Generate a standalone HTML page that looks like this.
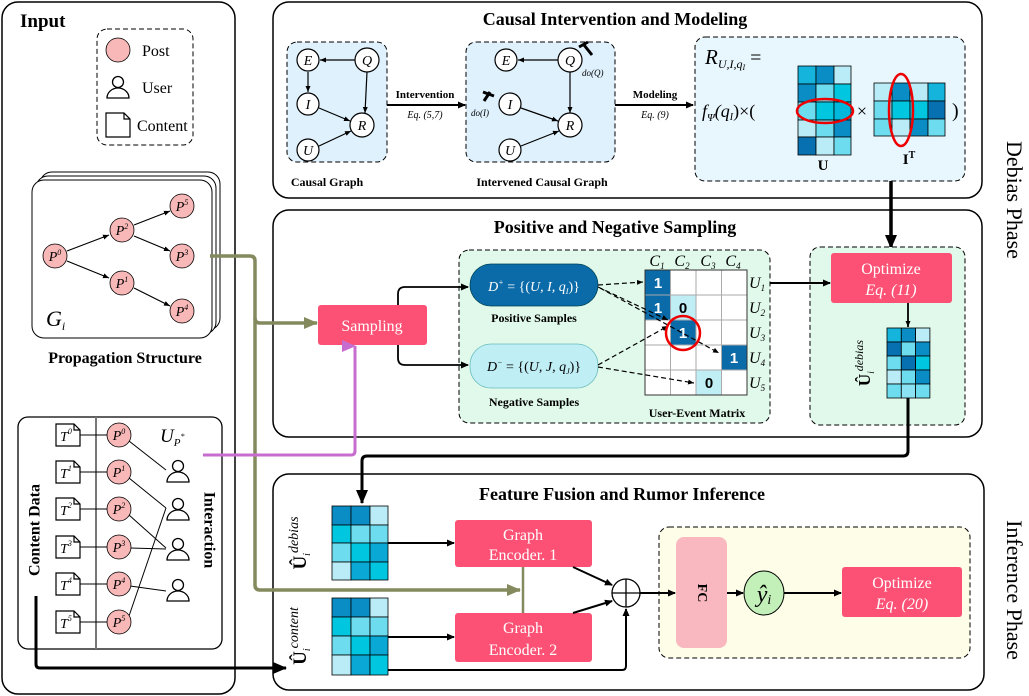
<!DOCTYPE html>
<html><head><meta charset="utf-8"><style>
html,body{margin:0;padding:0;background:#fff}
svg{display:block;font-family:"Liberation Serif",serif}
.b{font-weight:bold}
.i{font-style:italic}
</style></head><body>
<svg width="1029" height="696" viewBox="0 0 1029 696" xmlns="http://www.w3.org/2000/svg">
<defs>
<marker id="a" markerWidth="8" markerHeight="8" refX="7" refY="4" orient="auto" markerUnits="userSpaceOnUse"><path d="M0,0.5 L8,4 L0,7.5 Z" fill="#000"/></marker>
<marker id="as" markerWidth="6" markerHeight="6" refX="6" refY="3" orient="auto" markerUnits="userSpaceOnUse"><path d="M0,0.5 L6,3 L0,5.5 Z" fill="#000"/></marker>
<marker id="ab" markerWidth="14" markerHeight="14" refX="13" refY="7" orient="auto" markerUnits="userSpaceOnUse"><path d="M0,1 L14,7 L0,13 Z" fill="#000"/></marker>
<marker id="ao" markerWidth="14" markerHeight="14" refX="13" refY="7" orient="auto" markerUnits="userSpaceOnUse"><path d="M0,1 L14,7 L0,13 Z" fill="#848a5e"/></marker>
<marker id="ap" markerWidth="14" markerHeight="14" refX="7" refY="13" orient="auto" markerUnits="userSpaceOnUse"><path d="M1,0 L7,14 L13,0 Z" fill="#c86dd0"/></marker>
<g id="user"><circle cx="0" cy="-6" r="5.5" fill="#fff" stroke="#000" stroke-width="1.3"/><path d="M-11,10 A11,10 0 0 1 11,10 Z" fill="#fff" stroke="#000" stroke-width="1.3"/></g>
<g id="doc"><path d="M-12,-11 L6,-11 L12,-5 L12,11 L-12,11 Z M6,-11 L6,-5 L12,-5" fill="#fff" stroke="#000" stroke-width="1.2"/></g>
</defs>

<!-- main panels -->
<rect x="2" y="2" width="233" height="692" rx="16" fill="none" stroke="#000" stroke-width="1.5"/>
<rect x="273" y="2" width="709" height="196" rx="16" fill="none" stroke="#000" stroke-width="1.5"/>
<rect x="273" y="210" width="709" height="227" rx="16" fill="none" stroke="#000" stroke-width="1.5"/>
<rect x="273" y="474" width="711" height="216" rx="16" fill="none" stroke="#000" stroke-width="1.5"/>
<text x="1012" y="200" font-size="22" text-anchor="middle" transform="rotate(90 1012 200)" dominant-baseline="middle">Debias Phase</text>
<text x="1012" y="590" font-size="22" text-anchor="middle" transform="rotate(90 1012 590)" dominant-baseline="middle">Inference Phase</text>

<!-- INPUT -->
<text x="20" y="27" font-size="19" class="b">Input</text>
<rect x="97" y="29" width="96" height="116" rx="10" fill="none" stroke="#000" stroke-dasharray="5,3"/>
<circle cx="118" cy="50" r="12" fill="#f9b8b8" stroke="#000" stroke-width="0.8"/>
<text x="142" y="56" font-size="16">Post</text>
<use href="#user" x="118" y="88"/>
<text x="142" y="93" font-size="16">User</text>
<path d="M106,113 L124,113 L130,119 L130,137 L106,137 Z M124,113 L124,119 L130,119" fill="#fff" stroke="#000" stroke-width="1.2"/>
<text x="137" y="131" font-size="16">Content</text>

<rect x="40" y="172" width="180" height="158" rx="12" fill="#fff" stroke="#000"/>
<rect x="36" y="176" width="180" height="158" rx="12" fill="#fff" stroke="#000"/>
<rect x="32" y="180" width="180" height="158" rx="12" fill="#fff" stroke="#000"/>
<g stroke="#000" stroke-width="1.2" fill="none" marker-end="url(#as)">
<line x1="67" y1="251" x2="109" y2="235"/><line x1="67" y1="261" x2="109" y2="278"/>
<line x1="134" y1="225" x2="170" y2="211"/><line x1="134" y1="236" x2="170" y2="251"/>
<line x1="134" y1="288" x2="170" y2="306"/>
</g>
<g fill="#f9b8b8" stroke="#000" stroke-width="0.8">
<circle cx="55" cy="256" r="12"/><circle cx="122" cy="230" r="12"/><circle cx="182" cy="206" r="12"/>
<circle cx="182" cy="256" r="12"/><circle cx="122" cy="283" r="12"/><circle cx="182" cy="311" r="12"/>
</g>
<g font-size="14" class="i" text-anchor="middle">
<text x="55" y="261">P<tspan font-size="8" dy="-6">0</tspan></text>
<text x="122" y="235">P<tspan font-size="8" dy="-6">2</tspan></text>
<text x="182" y="211">P<tspan font-size="8" dy="-6">5</tspan></text>
<text x="182" y="261">P<tspan font-size="8" dy="-6">3</tspan></text>
<text x="122" y="288">P<tspan font-size="8" dy="-6">1</tspan></text>
<text x="182" y="316">P<tspan font-size="8" dy="-6">4</tspan></text>
</g>
<text x="46" y="326" font-size="22" class="i">G<tspan font-size="12" dy="4">i</tspan></text>
<text x="125" y="363" font-size="16" class="b" text-anchor="middle">Propagation Structure</text>

<rect x="18" y="417" width="204" height="232" rx="10" fill="none" stroke="#000" stroke-width="1.3"/>
<line x1="96" y1="417" x2="96" y2="649" stroke="#777" stroke-width="2"/>
<g stroke="#000" stroke-width="1">
<line x1="80" y1="435" x2="108" y2="435"/><line x1="80" y1="472" x2="108" y2="472"/><line x1="80" y1="509" x2="108" y2="509"/>
<line x1="80" y1="547" x2="108" y2="547"/><line x1="80" y1="584" x2="108" y2="584"/><line x1="80" y1="622" x2="108" y2="622"/>
<line x1="129" y1="441" x2="166" y2="470"/><line x1="129" y1="478" x2="166" y2="508"/><line x1="129" y1="515" x2="166" y2="548"/>
<line x1="130" y1="548" x2="166" y2="549"/><line x1="130" y1="586" x2="166" y2="591"/><line x1="129" y1="616" x2="166" y2="508"/>
</g>
<g>
<use href="#doc" x="68" y="435"/><use href="#doc" x="68" y="472"/><use href="#doc" x="68" y="509"/>
<use href="#doc" x="68" y="547"/><use href="#doc" x="68" y="584"/><use href="#doc" x="68" y="622"/>
</g>
<g font-size="14" class="i" text-anchor="middle">
<text x="66" y="441">T<tspan font-size="8" dy="-7">0</tspan></text>
<text x="66" y="478">T<tspan font-size="8" dy="-7">1</tspan></text>
<text x="66" y="515">T<tspan font-size="8" dy="-7">2</tspan></text>
<text x="66" y="553">T<tspan font-size="8" dy="-7">3</tspan></text>
<text x="66" y="590">T<tspan font-size="8" dy="-7">4</tspan></text>
<text x="66" y="628">T<tspan font-size="8" dy="-7">5</tspan></text>
</g>
<g fill="#f9b8b8" stroke="#000" stroke-width="0.8">
<circle cx="119" cy="435" r="12"/><circle cx="119" cy="472" r="12"/><circle cx="119" cy="509" r="12"/>
<circle cx="119" cy="547" r="12"/><circle cx="119" cy="584" r="12"/><circle cx="119" cy="622" r="12"/>
</g>
<g font-size="14" class="i" text-anchor="middle">
<text x="119" y="440">P<tspan font-size="8" dy="-6">0</tspan></text>
<text x="119" y="477">P<tspan font-size="8" dy="-6">1</tspan></text>
<text x="119" y="514">P<tspan font-size="8" dy="-6">2</tspan></text>
<text x="119" y="552">P<tspan font-size="8" dy="-6">3</tspan></text>
<text x="119" y="589">P<tspan font-size="8" dy="-6">4</tspan></text>
<text x="119" y="627">P<tspan font-size="8" dy="-6">5</tspan></text>
</g>
<use href="#user" x="178" y="472"/><use href="#user" x="178" y="510"/><use href="#user" x="178" y="550"/><use href="#user" x="178" y="591"/>
<text x="160" y="442" font-size="19" class="i">U<tspan font-size="11" dy="4">P</tspan><tspan font-size="8" dy="-7">*</tspan></text>
<text x="36" y="530" font-size="16" class="b" text-anchor="middle" transform="rotate(-90 36 530)" dominant-baseline="middle">Content Data</text>
<text x="208" y="530" font-size="16" class="b" text-anchor="middle" transform="rotate(90 208 530)" dominant-baseline="middle">Interaction</text>

<!-- CAUSAL -->
<text x="615" y="25" font-size="18" class="b" text-anchor="middle">Causal Intervention and  Modeling</text>
<rect x="287" y="42" width="100" height="120" rx="10" fill="#dff1fc" stroke="#000" stroke-dasharray="5,3"/>
<rect x="466" y="42" width="149" height="120" rx="10" fill="#dff1fc" stroke="#000" stroke-dasharray="5,3"/>
<g stroke="#000" stroke-width="1.2" marker-end="url(#as)">
<line x1="355" y1="60" x2="320" y2="60"/><line x1="308" y1="72" x2="308" y2="92"/><line x1="367" y1="72" x2="365" y2="113"/>
<line x1="319" y1="108" x2="350" y2="121"/><line x1="319" y1="146" x2="351" y2="131"/>
<line x1="558" y1="60" x2="518" y2="60"/><line x1="570" y1="72" x2="570" y2="113"/>
<line x1="521" y1="108" x2="558" y2="121"/><line x1="521" y1="146" x2="559" y2="131"/>
</g>
<g fill="#fff" stroke="#000" stroke-width="1.2">
<circle cx="308" cy="60" r="11"/><circle cx="367" cy="60" r="12"/><circle cx="308" cy="104" r="11"/><circle cx="362" cy="125" r="12"/><circle cx="308" cy="150" r="11"/>
<circle cx="506" cy="60" r="11"/><circle cx="570" cy="60" r="12"/><circle cx="510" cy="104" r="11"/><circle cx="570" cy="125" r="12"/><circle cx="510" cy="150" r="11"/>
</g>
<g font-size="14" class="i" text-anchor="middle">
<text x="308" y="65">E</text><text x="367" y="65">Q</text><text x="308" y="109">I</text><text x="362" y="130">R</text><text x="308" y="155">U</text>
<text x="506" y="65">E</text><text x="570" y="65">Q</text><text x="510" y="109">I</text><text x="570" y="130">R</text><text x="510" y="155">U</text>
</g>
<g stroke="#000" stroke-width="3"><line x1="584" y1="45" x2="592" y2="55"/><line x1="579" y1="47" x2="588" y2="42"/>
<line x1="484" y1="101" x2="490" y2="92"/><line x1="483" y1="92" x2="494" y2="96"/></g>
<text x="582" y="76" font-size="9" class="i">do(Q)</text>
<text x="471" y="116" font-size="9" class="i">do(I)</text>
<text x="327" y="186" font-size="12" class="b" text-anchor="middle">Causal Graph</text>
<text x="542" y="186" font-size="12" class="b" text-anchor="middle">Intervened Causal Graph</text>
<line x1="387" y1="105" x2="465" y2="105" stroke="#000" stroke-width="2" marker-end="url(#a)"/>
<text x="425" y="98" font-size="11" class="b" text-anchor="middle">Intervention</text>
<text x="425" y="118" font-size="10" class="i" text-anchor="middle">Eq. (5,7)</text>
<line x1="615" y1="105" x2="693" y2="105" stroke="#000" stroke-width="2" marker-end="url(#a)"/>
<text x="655" y="98" font-size="11" class="b" text-anchor="middle">Modeling</text>
<text x="655" y="118" font-size="10" class="i" text-anchor="middle">Eq. (9)</text>

<rect x="695" y="37" width="270" height="144" rx="10" fill="#e8f6fd" stroke="#000" stroke-dasharray="5,3"/>
<text x="705" y="64" font-size="21" class="i">R<tspan font-size="12" dy="4">U,I,q</tspan><tspan font-size="8" dy="2">I</tspan><tspan font-size="20" dy="-6" font-style="normal"> =</tspan></text>
<text x="702" y="117" font-size="18" class="i">f<tspan font-size="11" dy="4">Ψ</tspan><tspan dy="-4">(q</tspan><tspan font-size="10" dy="3">I</tspan><tspan dy="-3" font-style="normal">)×(</tspan></text>
<g stroke="#000" stroke-width="0.8">
<rect x="798" y="66" width="18" height="18" fill="#14b4dc"/><rect x="816" y="66" width="18" height="18" fill="#0a8cc4"/><rect x="834" y="66" width="17" height="18" fill="#b9ecf7"/>
<rect x="798" y="84" width="18" height="18" fill="#0a8cc4"/><rect x="816" y="84" width="18" height="18" fill="#6ddcef"/><rect x="834" y="84" width="17" height="18" fill="#00c6e0"/>
<rect x="798" y="102" width="18" height="18" fill="#6ddcef"/><rect x="816" y="102" width="18" height="18" fill="#00c6e0"/><rect x="834" y="102" width="17" height="18" fill="#00b8dc"/>
<rect x="798" y="120" width="18" height="17" fill="#b9ecf7"/><rect x="816" y="120" width="18" height="17" fill="#6ddcef"/><rect x="834" y="120" width="17" height="17" fill="#0a8cc4"/>
<rect x="798" y="137" width="18" height="18" fill="#0670b0"/><rect x="816" y="137" width="18" height="18" fill="#b9ecf7"/><rect x="834" y="137" width="17" height="18" fill="#6ddcef"/>
<rect x="874" y="83" width="18" height="18" fill="#b9ecf7"/><rect x="892" y="83" width="18" height="18" fill="#0a8cc4"/><rect x="910" y="83" width="18" height="18" fill="#b9ecf7"/><rect x="928" y="83" width="17" height="18" fill="#14b4dc"/>
<rect x="874" y="101" width="18" height="18" fill="#6ddcef"/><rect x="892" y="101" width="18" height="18" fill="#00c6e0"/><rect x="910" y="101" width="18" height="18" fill="#00c6e0"/><rect x="928" y="101" width="17" height="18" fill="#0670b0"/>
<rect x="874" y="119" width="18" height="17" fill="#6ddcef"/><rect x="892" y="119" width="18" height="17" fill="#b9ecf7"/><rect x="910" y="119" width="18" height="17" fill="#0a8cc4"/><rect x="928" y="119" width="17" height="17" fill="#6ddcef"/>
</g>
<ellipse cx="825" cy="111" rx="28" ry="12" fill="none" stroke="#e00" stroke-width="2.5"/>
<ellipse cx="901" cy="110" rx="12" ry="36" fill="none" stroke="#e00" stroke-width="2.5"/>
<text x="862" y="117" font-size="18" text-anchor="middle">×</text>
<text x="952" y="117" font-size="20">)</text>
<text x="823" y="170" font-size="15" class="b" text-anchor="middle">U</text>
<text x="909" y="164" font-size="15" class="b" text-anchor="middle">I<tspan font-size="10" dy="-6">T</tspan></text>
<line x1="891" y1="181" x2="891" y2="248" stroke="#000" stroke-width="3.5" marker-end="url(#ab)"/>

<!-- SAMPLING -->
<text x="615" y="233" font-size="18" class="b" text-anchor="middle">Positive and Negative Sampling</text>
<rect x="459" y="250" width="311" height="173" rx="10" fill="#e0f9ea" stroke="#000" stroke-dasharray="5,3"/>
<rect x="810" y="247" width="155" height="178" rx="10" fill="#e0f9ea" stroke="#000" stroke-dasharray="5,3"/>
<rect x="318" y="305" width="109" height="40" rx="3" fill="#fc5174"/>
<text x="372" y="331" font-size="16" fill="#fff" text-anchor="middle">Sampling</text>
<path d="M398,305 L398,294 Q398,287 405,287 L468,287" fill="none" stroke="#000" stroke-width="1.8" marker-end="url(#a)"/>
<path d="M398,345 L398,358 Q398,365 405,365 L468,365" fill="none" stroke="#000" stroke-width="1.8" marker-end="url(#a)"/>
<rect x="470" y="264" width="128" height="42" rx="21" fill="#0b6aa8" stroke="#045" stroke-width="0.8"/>
<text x="534" y="291" font-size="14" fill="#fff" text-anchor="middle" class="i">D<tspan font-size="8" dy="-6">+</tspan><tspan dy="6" font-style="normal"> = {(</tspan>U, I, q<tspan font-size="8" dy="3">I</tspan><tspan dy="-3" font-style="normal">)}</tspan></text>
<text x="534" y="322" font-size="12" class="b" text-anchor="middle">Positive Samples</text>
<rect x="470" y="344" width="128" height="44" rx="21" fill="#c0eef5" stroke="#6bb" stroke-width="0.8"/>
<text x="534" y="371" font-size="14" text-anchor="middle" class="i">D<tspan font-size="8" dy="-6">−</tspan><tspan dy="6" font-style="normal"> = {(</tspan>U, J, q<tspan font-size="8" dy="3">J</tspan><tspan dy="-3" font-style="normal">)}</tspan></text>
<text x="534" y="406" font-size="12" class="b" text-anchor="middle">Negative Samples</text>
<g>
<rect x="645" y="270" width="102" height="125" fill="#fff"/>
<rect x="645" y="270" width="25.5" height="25" fill="#0b6aa8"/>
<rect x="645" y="295" width="25.5" height="25" fill="#0b6aa8"/>
<rect x="670.5" y="295" width="25.5" height="25" fill="#c0eef5"/>
<rect x="670.5" y="320" width="25.5" height="25" fill="#0b6aa8"/>
<rect x="721.5" y="345" width="25.5" height="25" fill="#0b6aa8"/>
<rect x="696" y="370" width="25.5" height="25" fill="#c0eef5"/>
<g stroke="#aaa" stroke-width="1"><line x1="670.5" y1="270" x2="670.5" y2="395"/><line x1="696" y1="270" x2="696" y2="395"/><line x1="721.5" y1="270" x2="721.5" y2="395"/>
<line x1="645" y1="295" x2="747" y2="295"/><line x1="645" y1="320" x2="747" y2="320"/><line x1="645" y1="345" x2="747" y2="345"/><line x1="645" y1="370" x2="747" y2="370"/></g>
<rect x="645" y="270" width="102" height="125" fill="none" stroke="#333" stroke-width="1"/>
</g>
<g font-family="Liberation Sans,sans-serif" font-weight="bold" font-size="15" text-anchor="middle">
<text x="658" y="288" fill="#fff">1</text><text x="658" y="313" fill="#fff">1</text><text x="683" y="313">0</text>
<text x="683" y="338" fill="#fff">1</text><text x="734" y="363" fill="#fff">1</text><text x="709" y="388">0</text>
</g>
<g font-size="16" class="i" text-anchor="middle">
<text x="657" y="266">C<tspan font-size="9" dy="3">1</tspan></text><text x="682" y="266">C<tspan font-size="9" dy="3">2</tspan></text>
<text x="708" y="266">C<tspan font-size="9" dy="3">3</tspan></text><text x="733" y="266">C<tspan font-size="9" dy="3">4</tspan></text>
</g>
<g font-size="16" class="i">
<text x="749" y="288">U<tspan font-size="9" dy="3">1</tspan></text><text x="749" y="313">U<tspan font-size="9" dy="3">2</tspan></text>
<text x="749" y="338">U<tspan font-size="9" dy="3">3</tspan></text><text x="749" y="363">U<tspan font-size="9" dy="3">4</tspan></text>
<text x="749" y="388">U<tspan font-size="9" dy="3">5</tspan></text>
</g>
<g stroke="#000" stroke-width="1.2" stroke-dasharray="5,3" fill="none" marker-end="url(#as)">
<line x1="598" y1="285" x2="643" y2="282"/><line x1="598" y1="287" x2="668" y2="320"/><line x1="600" y1="288" x2="719" y2="353"/>
<line x1="598" y1="365" x2="668" y2="326"/><line x1="598" y1="367" x2="694" y2="383"/>
</g>
<circle cx="683" cy="333" r="17" fill="none" stroke="#e00" stroke-width="2.5"/>
<text x="697" y="417" font-size="12" class="b" text-anchor="middle">User-Event Matrix</text>
<line x1="770" y1="283" x2="830" y2="283" stroke="#000" stroke-width="2" marker-end="url(#a)"/>
<rect x="831" y="253" width="121" height="50" rx="3" fill="#fc5174"/>
<text x="891" y="274" font-size="16" fill="#fff" text-anchor="middle">Optimize</text>
<text x="891" y="295" font-size="16" fill="#fff" text-anchor="middle" class="i">Eq. (11)</text>
<line x1="908" y1="303" x2="908" y2="327" stroke="#000" stroke-width="1.8" marker-end="url(#as)"/>
<g stroke="#000" stroke-width="0.8">
<rect x="887" y="328" width="14.3" height="14" fill="#14b4dc"/><rect x="901.3" y="328" width="14.3" height="14" fill="#0a8cc4"/><rect x="915.6" y="328" width="14.3" height="14" fill="#b9ecf7"/>
<rect x="887" y="342" width="14.3" height="14" fill="#0670b0"/><rect x="901.3" y="342" width="14.3" height="14" fill="#6ddcef"/><rect x="915.6" y="342" width="14.3" height="14" fill="#0a8cc4"/>
<rect x="887" y="356" width="14.3" height="14" fill="#6ddcef"/><rect x="901.3" y="356" width="14.3" height="14" fill="#0670b0"/><rect x="915.6" y="356" width="14.3" height="14" fill="#00c6e0"/>
<rect x="887" y="370" width="14.3" height="14" fill="#b9ecf7"/><rect x="901.3" y="370" width="14.3" height="14" fill="#6ddcef"/><rect x="915.6" y="370" width="14.3" height="14" fill="#0a8cc4"/>
<rect x="887" y="384" width="14.3" height="14" fill="#6ddcef"/><rect x="901.3" y="384" width="14.3" height="14" fill="#8ae2f2"/><rect x="915.6" y="384" width="14.3" height="14" fill="#6ddcef"/>
</g>
<text x="870" y="363" font-size="17" text-anchor="middle" transform="rotate(-90 870 363)"><tspan font-weight="bold">Û</tspan><tspan font-size="9" dy="4" class="i">i</tspan><tspan font-size="12" dy="-11" class="i">debias</tspan></text>
<path d="M908,398 L908,451 Q908,456 903,456 L367,456 Q362,456 362,461 L362,503" fill="none" stroke="#000" stroke-width="3" marker-end="url(#ab)"/>

<!-- FUSION -->
<text x="622" y="500" font-size="18" class="b" text-anchor="middle">Feature Fusion and  Rumor Inference</text>
<g stroke="#000" stroke-width="0.8">
<rect x="332" y="506" width="19" height="19" fill="#0a8cc4"/><rect x="351" y="506" width="19" height="19" fill="#0a8cc4"/><rect x="370" y="506" width="18" height="19" fill="#b9ecf7"/>
<rect x="332" y="525" width="19" height="18" fill="#00c6e0"/><rect x="351" y="525" width="19" height="18" fill="#6ddcef"/><rect x="370" y="525" width="18" height="18" fill="#6ddcef"/>
<rect x="332" y="543" width="19" height="19" fill="#6ddcef"/><rect x="351" y="543" width="19" height="19" fill="#00c6e0"/><rect x="370" y="543" width="18" height="19" fill="#0aa8d4"/>
<rect x="332" y="562" width="19" height="18" fill="#b9ecf7"/><rect x="351" y="562" width="19" height="18" fill="#0aa8d4"/><rect x="370" y="562" width="18" height="18" fill="#00c6e0"/>
<rect x="332" y="598" width="19" height="19" fill="#0a8cc4"/><rect x="351" y="598" width="19" height="19" fill="#0a8cc4"/><rect x="370" y="598" width="18" height="19" fill="#b9ecf7"/>
<rect x="332" y="617" width="19" height="19" fill="#00c6e0"/><rect x="351" y="617" width="19" height="19" fill="#6ddcef"/><rect x="370" y="617" width="18" height="19" fill="#6ddcef"/>
<rect x="332" y="636" width="19" height="19" fill="#6ddcef"/><rect x="351" y="636" width="19" height="19" fill="#00c6e0"/><rect x="370" y="636" width="18" height="19" fill="#0aa8d4"/>
<rect x="332" y="655" width="19" height="20" fill="#b9ecf7"/><rect x="351" y="655" width="19" height="20" fill="#0aa8d4"/><rect x="370" y="655" width="18" height="20" fill="#00c6e0"/>
</g>
<text x="306" y="543" font-size="19" text-anchor="middle" transform="rotate(-90 306 543)"><tspan font-weight="bold">Û</tspan><tspan font-size="10" dy="4" class="i">i</tspan><tspan font-size="14" dy="-12" class="i">debias</tspan></text>
<text x="306" y="636" font-size="19" text-anchor="middle" transform="rotate(-90 306 636)"><tspan font-weight="bold">Û</tspan><tspan font-size="10" dy="4" class="i">i</tspan><tspan font-size="14" dy="-12" class="i">content</tspan></text>
<rect x="455" y="520" width="137" height="47" rx="3" fill="#fc5174"/>
<text x="523" y="540" font-size="16" fill="#fff" text-anchor="middle">Graph</text>
<text x="523" y="560" font-size="16" fill="#fff" text-anchor="middle">Encoder. 1</text>
<rect x="455" y="613" width="137" height="49" rx="3" fill="#fc5174"/>
<text x="523" y="633" font-size="16" fill="#fff" text-anchor="middle">Graph</text>
<text x="523" y="655" font-size="16" fill="#fff" text-anchor="middle">Encoder. 2</text>
<line x1="388" y1="543" x2="454" y2="543" stroke="#000" stroke-width="2" marker-end="url(#a)"/>
<line x1="388" y1="637" x2="454" y2="637" stroke="#000" stroke-width="2" marker-end="url(#a)"/>
<line x1="573" y1="567" x2="612" y2="585" stroke="#000" stroke-width="2" marker-end="url(#a)"/>
<line x1="573" y1="613" x2="612" y2="601" stroke="#000" stroke-width="2" marker-end="url(#a)"/>
<path d="M388,670 L622,670 Q626,670 626,666 L626,609" fill="none" stroke="#000" stroke-width="2" marker-end="url(#a)"/>
<circle cx="626" cy="593" r="14" fill="#fff" stroke="#000" stroke-width="1.3"/>
<line x1="612" y1="593" x2="640" y2="593" stroke="#000" stroke-width="1.3"/><line x1="626" y1="579" x2="626" y2="607" stroke="#000" stroke-width="1.3"/>
<rect x="659" y="527" width="311" height="131" rx="10" fill="#fdfde8" stroke="#000" stroke-dasharray="5,3"/>
<line x1="640" y1="593" x2="675" y2="593" stroke="#000" stroke-width="2" marker-end="url(#a)"/>
<rect x="676" y="537" width="51" height="111" rx="8" fill="#f9b8bf"/>
<text x="701" y="593" font-size="14" class="b" text-anchor="middle" transform="rotate(90 701 593)" dominant-baseline="middle">FC</text>
<line x1="727" y1="593" x2="743" y2="593" stroke="#000" stroke-width="2" marker-end="url(#a)"/>
<ellipse cx="764" cy="593" rx="20" ry="22" fill="#c2f0b8" stroke="#000" stroke-width="1"/>
<text x="764" y="602" font-size="24" class="i" text-anchor="middle">ŷ<tspan font-size="14" dy="2">i</tspan></text>
<line x1="784" y1="593" x2="841" y2="593" stroke="#000" stroke-width="2" marker-end="url(#a)"/>
<rect x="842" y="567" width="120" height="50" rx="3" fill="#fc5174"/>
<text x="902" y="588" font-size="16" fill="#fff" text-anchor="middle">Optimize</text>
<text x="902" y="609" font-size="16" fill="#fff" text-anchor="middle" class="i">Eq. (20)</text>

<!-- olive, purple, content lines -->
<line x1="523" y1="567" x2="523" y2="613" stroke="#848a5e" stroke-width="2.5"/>
<path d="M210,256 L250,256 Q255,256 255,261 L255,585 Q255,590 260,590 L520,590" fill="none" stroke="#848a5e" stroke-width="3.5" marker-end="url(#ao)"/>
<path d="M255,318 Q255,323 260,323 L317,323" fill="none" stroke="#848a5e" stroke-width="3.5" marker-end="url(#ao)"/>
<path d="M203,455 L351,455 Q355,455 355,451 L355,346" fill="none" stroke="#c86dd0" stroke-width="3" marker-end="url(#ap)"/>
<path d="M36,596 L36,664 Q36,668 40,668 L286,668" fill="none" stroke="#000" stroke-width="3" marker-end="url(#ab)"/>
</svg>
</body></html>
